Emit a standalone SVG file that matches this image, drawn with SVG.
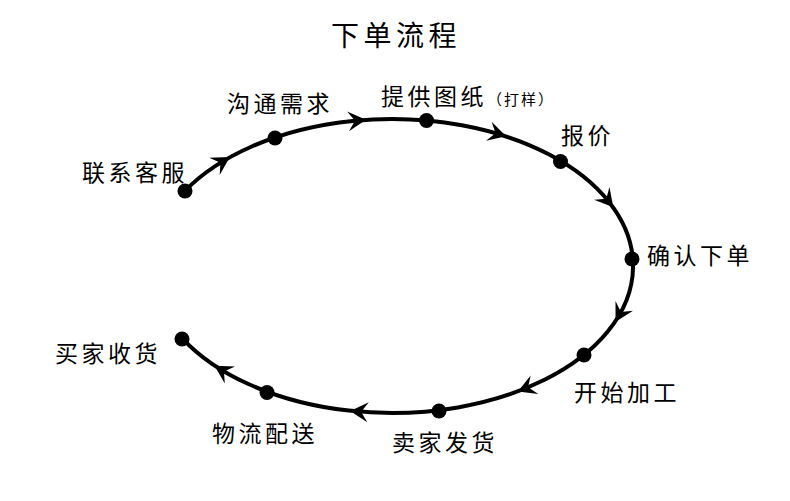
<svg xmlns="http://www.w3.org/2000/svg" width="790" height="501" viewBox="0 0 790 501">
<style>
text{font-family:"Noto Sans CJK SC","Noto Sans",sans-serif;fill:#000;}
.lbl{font-size:23px;letter-spacing:3.5px;}
.small{font-size:15px;letter-spacing:2px;}
.title{font-size:28px;letter-spacing:4.5px;}
.dot{fill:#000;}
.arr{fill:#000;}
.track{fill:none;stroke:#000;stroke-width:4;}
</style>
<defs>
<path id="ah" d="M10,0 L-8,-10 L-1,0 L-8,10 Z"/>
</defs>
<rect width="790" height="501" fill="#fff"/>
<text class="title" x="331" y="46">下单流程</text>
<g id="connectors">
<path class="track" d="M184.8,191 A241,147 0 1 1 182.7,338.8"/>
<use href="#ah" class="arr" transform="translate(221.3,162.2) rotate(-31.5)"/>
<use href="#ah" class="arr" transform="translate(356,120.6) rotate(-5.3)"/>
<use href="#ah" class="arr" transform="translate(496.5,133.5) rotate(16.4)"/>
<use href="#ah" class="arr" transform="translate(606.9,199.5) rotate(50.2)"/>
<use href="#ah" class="arr" transform="translate(620.4,312.9) rotate(118.9)"/>
<use href="#ah" class="arr" transform="translate(527.1,387.7) rotate(157.6)"/>
<use href="#ah" class="arr" transform="translate(360.1,411.7) rotate(184.6)"/>
<use href="#ah" class="arr" transform="translate(223.1,370.9) rotate(211)"/>
</g>
<g id="n1"><circle class="dot" cx="185" cy="191" r="7.5"/><text class="lbl" x="82" y="181">联系客服</text></g>
<g id="n2"><circle class="dot" cx="275" cy="138" r="7.5"/><text class="lbl" x="227" y="112">沟通需求</text></g>
<g id="n3"><circle class="dot" cx="426.5" cy="120.5" r="7.5"/><text class="lbl" x="381" y="105">提供图纸<tspan class="small">（打样）</tspan></text></g>
<g id="n4"><circle class="dot" cx="560.5" cy="161.5" r="7.5"/><text class="lbl" x="561" y="144">报价</text></g>
<g id="n5"><circle class="dot" cx="632" cy="259" r="7.5"/><text class="lbl" x="647" y="264">确认下单</text></g>
<g id="n6"><circle class="dot" cx="584" cy="355" r="7.5"/><text class="lbl" x="574" y="401">开始加工</text></g>
<g id="n7"><circle class="dot" cx="439" cy="411" r="7.5"/><text class="lbl" x="392" y="451">卖家发货</text></g>
<g id="n8"><circle class="dot" cx="267" cy="392.5" r="7.5"/><text class="lbl" x="212" y="442">物流配送</text></g>
<g id="n9"><circle class="dot" cx="182" cy="339" r="7.5"/><text class="lbl" x="55" y="362">买家收货</text></g>
</svg>
